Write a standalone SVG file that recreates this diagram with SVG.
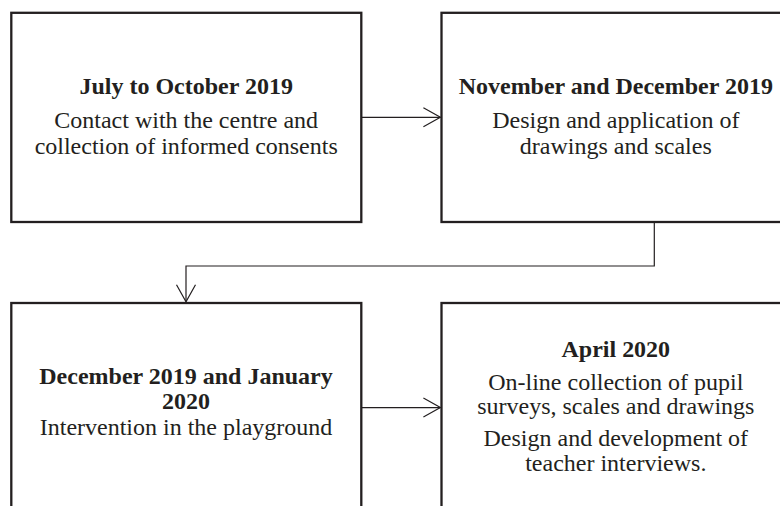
<svg xmlns="http://www.w3.org/2000/svg" width="780" height="506" viewBox="0 0 780 506">
  <style>
    .box { fill: #ffffff; stroke: #231f20; stroke-width: 2.3; }
    .t { font-family: "Liberation Serif", "Times New Roman", serif; font-size: 22.5px; fill: #231f20; text-anchor: middle; }
    .b { font-weight: bold; }
    .conn { fill: none; stroke: #231f20; stroke-width: 1.2; }
  </style>
  <defs>
    <marker id="arrow" markerUnits="userSpaceOnUse" viewBox="-19 -11 21 22" markerWidth="21" markerHeight="22" refX="0" refY="0" orient="auto">
      <path d="M-17,-9.5 L0,0 L-17,9.5" fill="none" stroke="#231f20" stroke-width="1.2"/>
    </marker>
  </defs>
  <rect width="780" height="506" fill="#ffffff"/>

  <g id="connectors">
    <path class="conn" d="M362,117.3 H440.4" marker-end="url(#arrow)"/>
    <path class="conn" d="M654.3,223 V266 H186 V301.8" marker-end="url(#arrow)"/>
    <path class="conn" d="M362,407.6 H440.4" marker-end="url(#arrow)"/>
  </g>

  <g id="n1">
    <rect class="box" x="11.3" y="12.8" width="350" height="209.2"/>
    <g transform="translate(186.2,0) scale(1.067,1)">
      <text class="t b" x="0" y="94.5">July to October 2019</text>
      <text class="t" x="0" y="128.3">Contact with the centre and</text>
      <text class="t" x="0" y="154">collection of informed consents</text>
    </g>
  </g>

  <g id="n2">
    <rect class="box" x="441.5" y="12.8" width="350" height="209.2"/>
    <g transform="translate(615.8,0) scale(1.067,1)">
      <text class="t b" x="0" y="94.5">November and December 2019</text>
      <text class="t" x="0" y="128.3">Design and application of</text>
      <text class="t" x="0" y="154">drawings and scales</text>
    </g>
  </g>

  <g id="n3">
    <rect class="box" x="11.3" y="303" width="350" height="220"/>
    <g transform="translate(186,0) scale(1.067,1)">
      <text class="t b" x="0" y="384.3">December 2019 and January</text>
      <text class="t b" x="0" y="409">2020</text>
      <text class="t" x="0" y="435">Intervention in the playground</text>
    </g>
  </g>

  <g id="n4">
    <rect class="box" x="441.5" y="303" width="350" height="220"/>
    <g transform="translate(615.8,0) scale(1.067,1)">
      <text class="t b" x="0" y="356.7">April 2020</text>
      <text class="t" x="0" y="390">On-line collection of pupil</text>
      <text class="t" x="0" y="414.3">surveys, scales and drawings</text>
      <text class="t" x="0" y="446">Design and development of</text>
      <text class="t" x="0" y="471">teacher interviews.</text>
    </g>
  </g>
</svg>
